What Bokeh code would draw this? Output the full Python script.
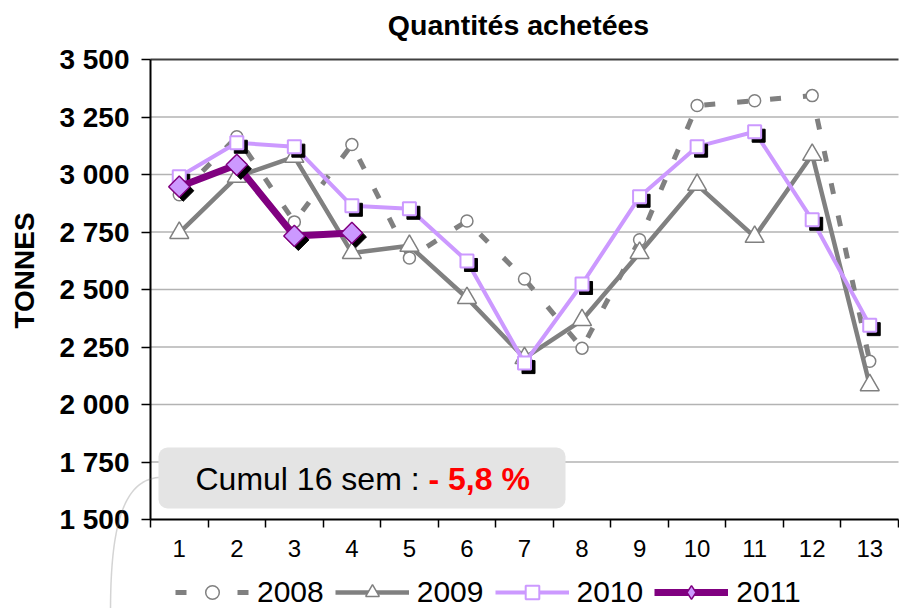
import numpy as np
from bokeh.plotting import figure
from bokeh.models import (Range1d, FixedTicker, LinearAxis, Legend, LegendItem,
                          BoxAnnotation, Label, PolyAnnotation)
from bokeh.embed import file_html
from bokeh.resources import INLINE

# ---------------- data ----------------
weeks = list(range(1, 14))
week_labels = [str(w) for w in weeks]
y_ticks = [1500, 1750, 2000, 2250, 2500, 2750, 3000, 3250, 3500]
y_tick_labels = ["1 500", "1 750", "2 000", "2 250", "2 500", "2 750", "3 000", "3 250", "3 500"]
series_names = ["2008", "2009", "2010", "2011"]
q2008 = [2912, 3164, 2794, 3130, 2637, 2798, 2546, 2245, 2716, 3300, 3321, 3343, 2188]
q2009 = [2746, 2990, 3077, 2659, 2690, 2463, 2202, 2367, 2659, 2955, 2729, 3086, 2084]
q2010 = [2990, 3138, 3121, 2864, 2851, 2624, 2180, 2524, 2903, 3121, 3186, 2803, 2345]
q2011 = [2947, 3042, 2733, 2746]
title_text = "Quantités achetées"
y_axis_title = "TONNES"
note_text = "Cumul 16 sem : "
note_value = "- 5,8 %"

FONT = "Liberation Sans"
W, H = 899, 608

# plot-area placement in canvas pixels (layout only)
FL, FR, FT, FB = 150, 898, 59, 519
x_lo, x_hi = weeks[0] - 0.5, weeks[-1] + 0.5
y_lo, y_hi = y_ticks[0], y_ticks[-1]
def X(px):
    return x_lo + (px - FL) * (x_hi - x_lo) / (FR - FL)
def Y(py):
    return y_lo + (FB - py) * (y_hi - y_lo) / (FB - FT)

p = figure(width=W, height=H,
           x_range=Range1d(X(0), X(W)), y_range=Range1d(Y(H), Y(0)),
           x_axis_type=None, y_axis_type=None, min_border=0,
           output_backend="svg", toolbar_location=None,
           outline_line_color=None, background_fill_color="white", border_fill_color="white")
p.xgrid.visible = False
p.ygrid.visible = False

# horizontal grid lines, limited to the plot area
p.segment(x0=[x_lo] * (len(y_ticks) - 2), x1=[x_hi] * (len(y_ticks) - 2),
          y0=y_ticks[1:-1], y1=y_ticks[1:-1], line_color="#b3b3b3", line_width=1.5)
p.segment(x0=[x_lo], x1=[x_hi], y0=[y_hi], y1=[y_hi], line_color="#404040", line_width=2)

# axes (fixed inside the canvas)
xaxis = LinearAxis(fixed_location=y_lo, bounds=(x_lo, x_hi),
                   ticker=FixedTicker(ticks=weeks, minor_ticks=[w - 0.5 for w in weeks] + [x_hi]),
                   major_label_overrides={w: l for w, l in zip(weeks, week_labels)})
xaxis.axis_line_color = "black"
xaxis.axis_line_width = 2
xaxis.major_tick_out = 0
xaxis.major_tick_in = 0
xaxis.minor_tick_out = 8
xaxis.minor_tick_in = 0
xaxis.minor_tick_line_color = "black"
xaxis.minor_tick_line_width = 1.5
xaxis.major_label_standoff = 12
xaxis.major_label_text_font = FONT
xaxis.major_label_text_font_size = "24px"
xaxis.major_label_text_color = "black"
p.add_layout(xaxis, "below")

yaxis = LinearAxis(fixed_location=x_lo, bounds=(y_lo, y_hi),
                   ticker=FixedTicker(ticks=y_ticks),
                   major_label_overrides={t: l for t, l in zip(y_ticks, y_tick_labels)})
yaxis.axis_line_color = "black"
yaxis.axis_line_width = 2
yaxis.major_tick_out = 9
yaxis.major_tick_in = 0
yaxis.major_tick_line_color = "black"
yaxis.major_tick_line_width = 1.5
yaxis.minor_tick_out = 0
yaxis.minor_tick_in = 0
yaxis.major_label_standoff = 12
yaxis.major_label_text_font = FONT
yaxis.major_label_text_font_size = "28px"
yaxis.major_label_text_font_style = "bold"
yaxis.major_label_text_color = "black"
p.add_layout(yaxis, "left")

# y axis title
p.add_layout(Label(x=X(24), y=Y(270), text=y_axis_title, angle=np.pi / 2,
                   text_align="center", text_baseline="middle", text_font=FONT,
                   text_font_size="28px", text_font_style="bold", text_color="black"))

# shadow offsets (4px right, 4px down)
sdx = 4 * (x_hi - x_lo) / (FR - FL)
sdy = -4 * (y_hi - y_lo) / (FB - FT)

GRAY = "#808080"
LILAC = "#CC99FF"
PURPLE = "#800080"

# 2008
l08 = p.line(weeks, q2008, line_color=GRAY, line_width=5, line_dash="11 22")
s08 = p.scatter(weeks, q2008, marker="circle", size=12, fill_color="white",
                line_color=GRAY, line_width=1.5)
# 2009
l09 = p.line(weeks, q2009, line_color=GRAY, line_width=4.5)
s09 = p.scatter(weeks, q2009, marker="triangle", size=19, fill_color="white",
                line_color=GRAY, line_width=1.5)
# 2010
l10 = p.line(weeks, q2010, line_color=LILAC, line_width=4)
p.scatter([w + sdx for w in weeks], [v + sdy for v in q2010], marker="square", size=13,
          fill_color="black", line_color="black")
s10 = p.scatter(weeks, q2010, marker="square", size=13, fill_color="white",
                line_color=LILAC, line_width=2)
# 2011
w11 = weeks[:len(q2011)]
l11 = p.line(w11, q2011, line_color=PURPLE, line_width=7)
p.scatter([w + sdx for w in w11], [v + sdy for v in q2011], marker="square", angle=np.pi / 4,
          size=15, fill_color="black", line_color="black")
s11 = p.scatter(w11, q2011, marker="square", angle=np.pi / 4, size=15, fill_color=LILAC,
                line_color=PURPLE, line_width=1.5)

# legend-only proxies (draw nothing on the plot)
nan = [np.nan]
lg08_line = p.line(nan, nan, line_color=GRAY, line_width=5, line_dash="11 51")
lg08_pt = p.scatter(nan, nan, marker="circle", fill_color="white", line_color=GRAY, line_width=1.5)
lg09_pt = p.scatter(nan, nan, marker="triangle", fill_color="white", line_color=GRAY, line_width=1.5)
lg10_pt = p.scatter(nan, nan, marker="square", fill_color="white", line_color=LILAC, line_width=2)
lg11_pt = p.scatter(nan, nan, marker="diamond", fill_color=LILAC, line_color=PURPLE, line_width=1.5)

legend = Legend(items=[LegendItem(label=series_names[0], renderers=[lg08_line, lg08_pt]),
                       LegendItem(label=series_names[1], renderers=[l09, lg09_pt]),
                       LegendItem(label=series_names[2], renderers=[l10, lg10_pt]),
                       LegendItem(label=series_names[3], renderers=[l11, lg11_pt])],
                orientation="horizontal", location=(175, -1),
                glyph_width=74, glyph_height=34, label_standoff=8, spacing=11,
                padding=0, margin=0, border_line_alpha=0, background_fill_alpha=0,
                label_text_font=FONT, label_text_font_size="30px", label_text_color="black")
p.add_layout(legend)

# title
p.add_layout(Label(x=X(518), y=Y(24), text=title_text, text_align="center",
                   text_baseline="middle", text_font=FONT, text_font_size="28.5px",
                   text_font_style="bold", text_color="black"))

# note box
p.add_layout(BoxAnnotation(left=X(158), right=X(565), top=Y(447), bottom=Y(508),
                           fill_color="#e4e4e4", fill_alpha=1, line_color=None,
                           border_radius=9))
p.add_layout(Label(x=X(195), y=Y(478), text=note_text, text_baseline="middle",
                   text_font=FONT, text_font_size="32px", text_color="black"))
p.add_layout(Label(x=X(428), y=Y(478), text=note_value, text_baseline="middle",
                   text_font=FONT, text_font_size="32px", text_font_style="bold",
                   text_color="#FF0000"))

# connector curve
t = np.linspace(0, 1, 40)
P = np.array([[158, 477], [118, 480], [110, 540], [110, 612]], dtype=float)
bx = ((1 - t) ** 3) * P[0, 0] + 3 * ((1 - t) ** 2) * t * P[1, 0] + 3 * (1 - t) * t ** 2 * P[2, 0] + t ** 3 * P[3, 0]
by = ((1 - t) ** 3) * P[0, 1] + 3 * ((1 - t) ** 2) * t * P[1, 1] + 3 * (1 - t) * t ** 2 * P[2, 1] + t ** 3 * P[3, 1]
cx = [X(v) for v in bx] + [X(v) for v in bx[::-1]]
cy = [Y(v) for v in by] + [Y(v) for v in by[::-1]]
p.add_layout(PolyAnnotation(xs=cx, ys=cy, fill_alpha=0, line_color="#707070", line_width=1.5))

open("out.html", "w").write(file_html(p, INLINE))
